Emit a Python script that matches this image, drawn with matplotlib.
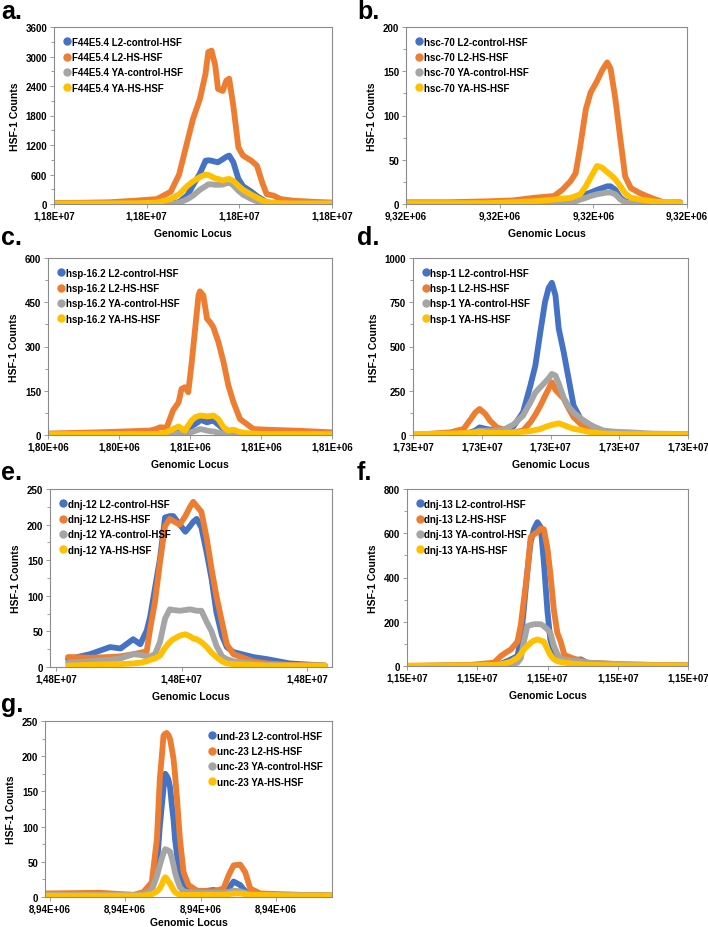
import numpy as np
import matplotlib
matplotlib.use('Agg')
import matplotlib.pyplot as plt
from matplotlib.lines import Line2D
from matplotlib.ticker import AutoMinorLocator, FuncFormatter, MultipleLocator

plt.rcParams['font.family'] = ['Liberation Sans', 'DejaVu Sans']
plt.rcParams['font.weight'] = 'bold'

CONDITIONS = ['L2-control-HSF', 'L2-HS-HSF', 'YA-control-HSF', 'YA-HS-HSF']
COLORS = ['#4472C4', '#ED7D31', '#A5A5A5', '#FFC000']

# a. F44E5.4
A_START = 11796000
A_OFFSETS = [0, 300, 600, 900, 1110, 1260, 1350, 1440, 1500, 1575, 1635, 1665, 1700, 1740, 1770,
             1820, 1860, 1890, 1935, 1990, 2040, 2130, 2190, 2250, 2295, 2370, 2445, 2580, 2790, 3000]
A_L2_CTRL = [5, 5, 5, 5, 5, 10, 40, 180, 380, 620, 880, 890, 880, 860, 850,
             910, 960, 985, 850, 510, 360, 250, 160, 90, 30, 10, 5, 5, 5, 5]
A_L2_HS = [20, 25, 35, 70, 100, 250, 600, 1280, 1730, 2140, 2650, 3090, 3120, 2820, 2340,
           2300, 2510, 2550, 2000, 1150, 985, 880, 780, 420, 200, 170, 100, 68, 45, 30]
A_YA_CTRL = [5, 5, 5, 5, 5, 5, 25, 100, 170, 290, 360, 400, 400, 390, 390,
             395, 420, 440, 380, 270, 190, 100, 55, 20, 5, 5, 5, 5, 5, 5]
A_YA_HS = [10, 10, 10, 15, 30, 100, 200, 370, 460, 550, 600, 590, 560, 520, 510,
           480, 500, 510, 470, 370, 290, 190, 130, 70, 45, 25, 15, 10, 10, 10]

# b. hsc-70
B_START = 9319000
B_OFFSETS = [0, 450, 870, 1140, 1365, 1581, 1668, 1758, 1812, 1860, 1920, 1971,
             2040, 2094, 2148, 2184, 2235, 2289, 2340, 2400, 2502, 2640, 2751, 2928]
B_L2_CTRL = [1, 1, 1, 1, 1, 2, 2, 3, 5, 8, 11, 13, 16, 18, 20, 20, 16, 7, 3, 2, 1, 1, 1, 1]
B_L2_HS = [2, 2, 3, 4, 7, 9, 16, 26, 35, 65, 107, 126, 139, 151, 160, 153, 119, 73, 31, 18, 12, 6, 2, 2]
B_YA_CTRL = [0, 0, 0, 0, 0, 1, 1, 2, 3, 5, 7, 9, 11, 12, 13, 13, 11, 5, 2, 1, 0, 0, 0, 0]
B_YA_HS = [1, 1, 1, 2, 3, 5, 6, 7, 9, 11, 20, 30, 43, 41, 36, 33, 28, 20, 12, 7, 5, 3, 2, 1]

# c. hsp-16.2
C_START = 1803800
C_OFFSETS = [0, 468, 936, 988, 1024, 1087, 1144, 1196, 1222, 1253, 1284, 1316, 1347, 1378, 1391,
             1422, 1456, 1482, 1513, 1560, 1607, 1651, 1698, 1758, 1820, 1882, 2002, 2314, 2600]
C_L2_CTRL = [0, 0, 0, 0, 0, 2, 9, 20, 12, 5, 15, 30, 37, 45, 52,
             48, 43, 46, 49, 35, 20, 8, 3, 0, 0, 0, 0, 0, 0]
C_L2_HS = [5, 9, 15, 20, 26, 25, 83, 111, 156, 162, 145, 247, 360, 473, 487,
           473, 394, 383, 366, 315, 247, 168, 111, 54, 37, 20, 18, 14, 9]
C_YA_CTRL = [0, 0, 0, 0, 0, 0, 2, 5, 4, 3, 6, 10, 14, 18, 20,
             18, 15, 13, 12, 8, 4, 2, 0, 0, 0, 0, 0, 0, 0]
C_YA_HS = [3, 3, 3, 3, 5, 10, 20, 29, 22, 15, 32, 50, 60, 64, 66,
           65, 63, 64, 66, 54, 26, 15, 18, 10, 6, 5, 3, 3, 3]

# d. hsp-1
D_START = 17295000
D_OFFSETS = [0, 544, 736, 840, 908, 968, 1052, 1120, 1220, 1320, 1464, 1600, 1708, 1780, 1852, 1920,
             1972, 2020, 2072, 2120, 2192, 2264, 2336, 2440, 2532, 2628, 2772, 2920, 3160, 3480, 4000]
D_L2_CTRL = [0, 5, 10, 15, 25, 43, 35, 30, 30, 30, 50, 128, 280, 393, 581, 751,
             830, 860, 789, 600, 468, 317, 166, 90, 68, 43, 18, 10, 5, 3, 3]
D_L2_HS = [0, 15, 34, 90, 128, 147, 119, 81, 43, 30, 15, 25, 72, 115, 165, 220,
           260, 298, 255, 235, 205, 150, 100, 62, 43, 34, 15, 8, 5, 3, 3]
D_YA_CTRL = [0, 3, 8, 12, 18, 25, 25, 25, 25, 30, 60, 110, 185, 240, 270, 298,
             320, 345, 336, 290, 210, 160, 128, 94, 68, 48, 25, 19, 15, 8, 5]
D_YA_HS = [5, 8, 10, 12, 15, 19, 15, 12, 12, 12, 15, 18, 22, 28, 34, 45,
           52, 57, 62, 66, 56, 45, 35, 28, 19, 14, 8, 6, 5, 5, 5]

# e. dnj-12
E_START = 14795000
E_OFFSETS = [288, 639, 958, 1125, 1327, 1440, 1543, 1597, 1674, 1755, 1836, 1912, 1966, 2070, 2160,
             2236, 2286, 2340, 2416, 2502, 2578, 2655, 2745, 2821, 2925, 3240, 3465, 3825, 4387]
E_L2_CTRL = [11, 18, 28, 26, 39, 32, 51, 70, 110, 152, 210, 212, 212, 200, 190,
             198, 204, 208, 196, 160, 124, 77, 44, 28, 21, 14, 11, 5, 2]
E_L2_HS = [14, 13, 14, 15, 18, 20, 22, 53, 91, 147, 198, 208, 205, 200, 212,
           225, 232, 226, 218, 180, 138, 100, 63, 32, 18, 8, 5, 3, 2]
E_YA_CTRL = [6, 8, 10, 12, 18, 17, 15, 15, 18, 35, 68, 81, 80, 79, 80,
             81, 80, 79, 79, 63, 50, 30, 15, 11, 8, 5, 3, 2, 2]
E_YA_HS = [2, 3, 4, 4, 5, 6, 8, 10, 12, 16, 27, 35, 39, 44, 46,
           43, 40, 39, 35, 28, 20, 14, 8, 5, 4, 3, 2, 2, 2]

# f. dnj-13
F_START = 11496000
F_OFFSETS = [0, 400, 908, 1240, 1336, 1428, 1480, 1572, 1620, 1664, 1712, 1760, 1808, 1856,
             1904, 1948, 2000, 2040, 2092, 2140, 2188, 2240, 2376, 2472, 2560, 3040, 3520, 4000]
F_L2_CTRL = [0, 1, 3, 5, 10, 22, 30, 45, 120, 260, 425, 560, 620, 650,
             627, 470, 245, 120, 60, 35, 25, 20, 25, 30, 15, 5, 3, 2]
F_L2_HS = [0, 2, 5, 15, 45, 65, 75, 110, 185, 300, 420, 582, 595, 605,
           622, 618, 530, 420, 250, 150, 110, 50, 33, 25, 15, 8, 5, 3]
F_YA_CTRL = [0, 1, 2, 3, 4, 5, 8, 15, 35, 110, 180, 185, 189, 189,
             189, 180, 165, 150, 90, 55, 33, 28, 22, 20, 15, 8, 4, 2]
F_YA_HS = [2, 2, 3, 5, 8, 15, 20, 37, 55, 75, 90, 105, 115, 120,
           115, 110, 75, 50, 30, 22, 18, 15, 10, 8, 5, 3, 3, 2]

# g. unc-23
G_START = 8937000
G_OFFSETS = [0, 722, 1178, 1303, 1414, 1482, 1520, 1547, 1569, 1592, 1611, 1634, 1657, 1680, 1702, 1721,
             1748, 1786, 1835, 1900, 2014, 2231, 2364, 2432, 2497, 2584, 2652, 2717, 2850, 3382, 3800]
G_L2_CTRL = [3, 3, 3, 4, 14, 45, 100, 130, 155, 175, 172, 167, 155, 130, 110, 83,
             60, 35, 14, 8, 7, 10, 7, 12, 22, 17, 8, 5, 3, 3, 2]
G_L2_HS = [5, 6, 3, 7, 21, 83, 167, 200, 229, 232, 233, 230, 224, 210, 196, 175,
           139, 83, 35, 17, 9, 8, 12, 31, 45, 46, 35, 12, 5, 3, 2]
G_YA_CTRL = [3, 3, 3, 4, 10, 30, 45, 55, 62, 68, 67, 66, 64, 55, 45, 35,
             25, 14, 8, 7, 6, 6, 6, 7, 9, 8, 6, 4, 3, 3, 2]
G_YA_HS = [2, 2, 2, 2, 4, 8, 12, 18, 24, 28, 26, 22, 19, 14, 10, 7,
           5, 3, 3, 3, 3, 3, 3, 4, 5, 5, 4, 3, 3, 2, 2]

# panel letter, gene, data, y range, x range + ticks, layout (pixels)
panels = [
    dict(letter='a.', gene='F44E5.4', start=A_START, off=A_OFFSETS,
         ys=[A_L2_CTRL, A_L2_HS, A_YA_CTRL, A_YA_HS], ymax=3600, ystep=600,
         xlim=(0, 3000), xticks=[0, 1000, 2000, 3000],
         box=(54, 28, 332, 205), letter_xy=(1, 19), loc='upper left'),
    dict(letter='b.', gene='hsc-70', start=B_START, off=B_OFFSETS,
         ys=[B_L2_CTRL, B_L2_HS, B_YA_CTRL, B_YA_HS], ymax=200, ystep=50,
         xlim=(0, 3000), xticks=[0, 1000, 2000, 3000],
         box=(406, 28, 687, 205), letter_xy=(357, 19), loc='upper left'),
    dict(letter='c.', gene='hsp-16.2', start=C_START, off=C_OFFSETS,
         ys=[C_L2_CTRL, C_L2_HS, C_YA_CTRL, C_YA_HS], ymax=600, ystep=150,
         xlim=(0, 2600), xticks=[0, 650, 1300, 1950, 2600],
         box=(48, 259, 332, 436), letter_xy=(1, 245), loc='upper left'),
    dict(letter='d.', gene='hsp-1', start=D_START, off=D_OFFSETS,
         ys=[D_L2_CTRL, D_L2_HS, D_YA_CTRL, D_YA_HS], ymax=1000, ystep=250,
         xlim=(0, 4000), xticks=[0, 1000, 2000, 3000, 4000],
         box=(413, 259, 688, 436), letter_xy=(357, 245), loc='upper left'),
    dict(letter='e.', gene='dnj-12', start=E_START, off=E_OFFSETS,
         ys=[E_L2_CTRL, E_L2_HS, E_YA_CTRL, E_YA_HS], ymax=250, ystep=50,
         xlim=(0, 4500), xticks=[100, 2100, 4100],
         box=(50, 490, 332, 668), letter_xy=(1, 480), loc='upper left'),
    dict(letter='f.', gene='dnj-13', start=F_START, off=F_OFFSETS,
         ys=[F_L2_CTRL, F_L2_HS, F_YA_CTRL, F_YA_HS], ymax=800, ystep=200,
         xlim=(0, 4000), xticks=[0, 1000, 2000, 3000, 4000],
         box=(407, 490, 688, 667), letter_xy=(357, 480), loc='upper left'),
    dict(letter='g.', gene='unc-23', start=G_START, off=G_OFFSETS,
         ys=[G_L2_CTRL, G_L2_HS, G_YA_CTRL, G_YA_HS], ymax=250, ystep=50,
         xlim=(0, 3800), xticks=[60, 1060, 2060, 3060],
         box=(45, 722, 332, 898), letter_xy=(1, 712), loc='upper right',
         first_label='und-23 L2-control-HSF'),
]

W, H = 708, 928
fig = plt.figure(figsize=(W / 100, H / 100), dpi=100)

excel_fmt = FuncFormatter(lambda v, pos: ('%.2E' % v).replace('.', ','))

for p in panels:
    x0, y0, x1, y1 = p['box']
    ax = fig.add_axes([x0 / W, 1 - y1 / H, (x1 - x0) / W, (y1 - y0) / H])
    x = np.array(p['off']) + p['start']
    for y, c in zip(p['ys'], COLORS):
        ax.plot(x, y, color=c, lw=4.2, solid_capstyle='round', solid_joinstyle='round')

    ax.set_xlim(p['start'] + p['xlim'][0], p['start'] + p['xlim'][1])
    ax.set_xticks([p['start'] + t for t in p['xticks']])
    ax.xaxis.set_major_formatter(excel_fmt)
    ax.set_ylim(0, p['ymax'])
    ax.yaxis.set_major_locator(MultipleLocator(p['ystep']))
    ax.yaxis.set_minor_locator(AutoMinorLocator(2))
    ax.tick_params(axis='both', which='major', labelsize=7, length=3, width=0.6,
                   color='#8c8c8c', pad=2)
    ax.tick_params(axis='y', which='minor', length=2, width=0.6, color='#8c8c8c')
    for lbl in ax.get_xticklabels() + ax.get_yticklabels():
        lbl.set_fontweight('bold')
    for s in ax.spines.values():
        s.set_color('#8c8c8c')
        s.set_linewidth(0.8)

    ax.set_ylabel('HSF-1 Counts', fontsize=7.5, fontweight='bold', labelpad=4)
    ax.set_xlabel('Genomic Locus', fontsize=7.5, fontweight='bold',
                  labelpad=2 if p['letter'] == 'g.' else 5)

    labels = [p['gene'] + ' ' + cnd for cnd in CONDITIONS]
    if 'first_label' in p:
        labels[0] = p['first_label']
    handles = [Line2D([], [], ls='none', marker='o', ms=5, color=c) for c in COLORS]
    anchor = (0.0, 1.0) if p['loc'] == 'upper left' else (1.0, 1.0)
    ax.legend(handles, labels, loc=p['loc'], bbox_to_anchor=anchor, frameon=False,
              prop={'size': 7, 'weight': 'bold'}, handlelength=0.6, handletextpad=0.2,
              labelspacing=0.55, borderaxespad=0.6)

    fig.text(p['letter_xy'][0] / W, 1 - p['letter_xy'][1] / H, p['letter'],
             fontsize=18, fontweight='bold', va='baseline', ha='left')

fig.savefig('out.png', dpi=100)
